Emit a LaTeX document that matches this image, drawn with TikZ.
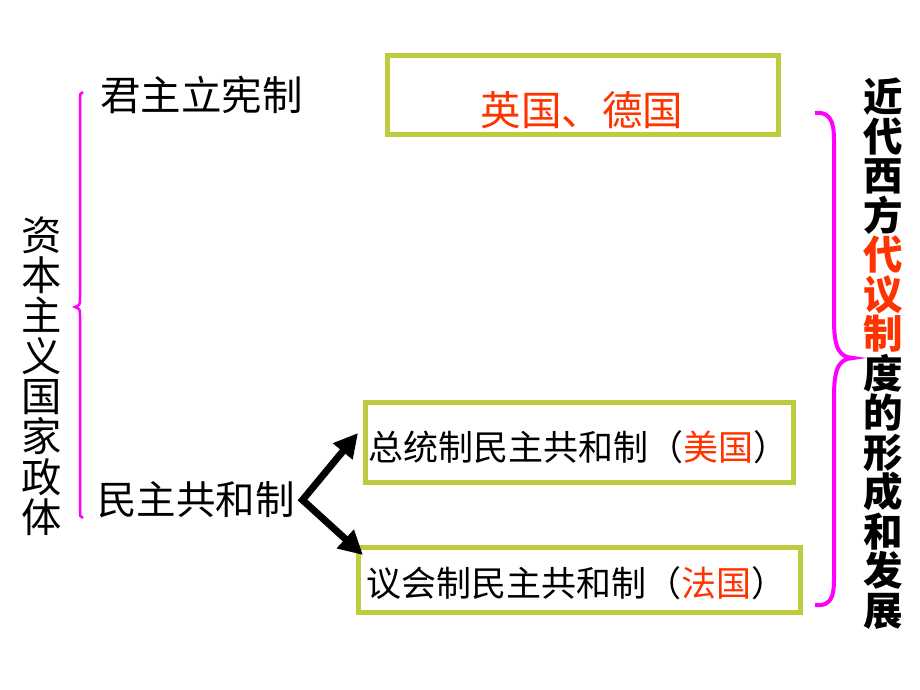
\documentclass[tikz,border=0pt]{standalone}
\usepackage{fontspec}
\setmainfont{Noto Sans CJK SC}
\usepackage{tikz}
\usetikzlibrary{arrows.meta}
\definecolor{boxgreen}{RGB}{189,204,62}
\definecolor{hired}{RGB}{255,51,0}
\definecolor{bracepink}{RGB}{255,0,255}
\newcommand{\txtsize}[1]{\fontsize{#1}{#1}\selectfont}
\tikzstyle{govbox}=[draw=boxgreen,line width=5pt,inner sep=0pt,outer sep=0pt]
\tikzstyle{cntext}=[inner sep=0pt,outer sep=0pt]
\tikzstyle{lbrace}=[draw=bracepink,line width=2.5pt]
\tikzstyle{rbrace}=[draw=bracepink,line width=4pt]
\tikzstyle{bigarrow}=[draw,line width=7pt,line join=miter,{Triangle[length=24pt,width=24pt]}-{Triangle[length=24pt,width=24pt]}]

\begin{document}
\begin{tikzpicture}[x=1pt,y=-1pt]
        \useasboundingbox (0,0) rectangle (920,690);
        % left side
        \node[cntext,font=\txtsize{40.3},align=center] (zbzy) at (42,376) {资\\本\\主\\义\\国\\家\\政\\体};
        \draw[lbrace] (83,92) .. controls (80,93) .. (80,102) -- (80,297)
              .. controls (80,305) .. (75,307) .. controls (80,309) .. (80,317)
              -- (80,508) .. controls (80,517) .. (83,518);
        \node[cntext,font=\txtsize{40.5},anchor=west] (jzlx) at (100,95) {君主立宪制};
        \node[cntext,font=\txtsize{39.5},anchor=west] (mzgh) at (97,500) {民主共和制};
        % boxes
        \node[govbox,minimum width=391pt,minimum height=79pt] (yd) at (583,95) {};
        \node[cntext,font=\txtsize{40.5},text=hired] (ydtxt) at (582,110) {英国、德国};
        \node[govbox,minimum width=428pt,minimum height=80pt] (zt) at (579.5,442.5) {};
        \node[cntext,font=\txtsize{35},anchor=west] (zttxt) at (368,447) {总统制民主共和制（\textcolor{hired}{美国}）};
        \node[govbox,minimum width=442pt,minimum height=65pt] (yh) at (579.5,580) {};
        \node[cntext,font=\txtsize{35},anchor=west] (yhtxt) at (366,583) {议会制民主共和制（\textcolor{hired}{法国}）};
        % arrows
        \coordinate (fork) at ([xshift=8pt]mzgh.east);
        \draw[bigarrow] ([xshift=-7.5pt,yshift=9.5pt]zt.west) -- (fork) -- ([xshift=4.5pt,yshift=-7.5pt]yh.north west);
        % right side
        \draw[rbrace] (815,113) .. controls (834,111) and (834,128) .. (834,145) -- (834,320)
              .. controls (834,350) and (840,357) .. (853,358) .. controls (840,359) and (834,366) .. (834,396)
              -- (834,575) .. controls (834,592) and (834,607) .. (815,605);
        \node[cntext,font=\txtsize{39.5}\bfseries,align=center] (xfdy) at (883,353.5) {近\\代\\西\\方\\\textcolor{hired}{代}\\\textcolor{hired}{议}\\\textcolor{hired}{制}\\度\\的\\形\\成\\和\\发\\展};
      \end{tikzpicture}
\end{document}
